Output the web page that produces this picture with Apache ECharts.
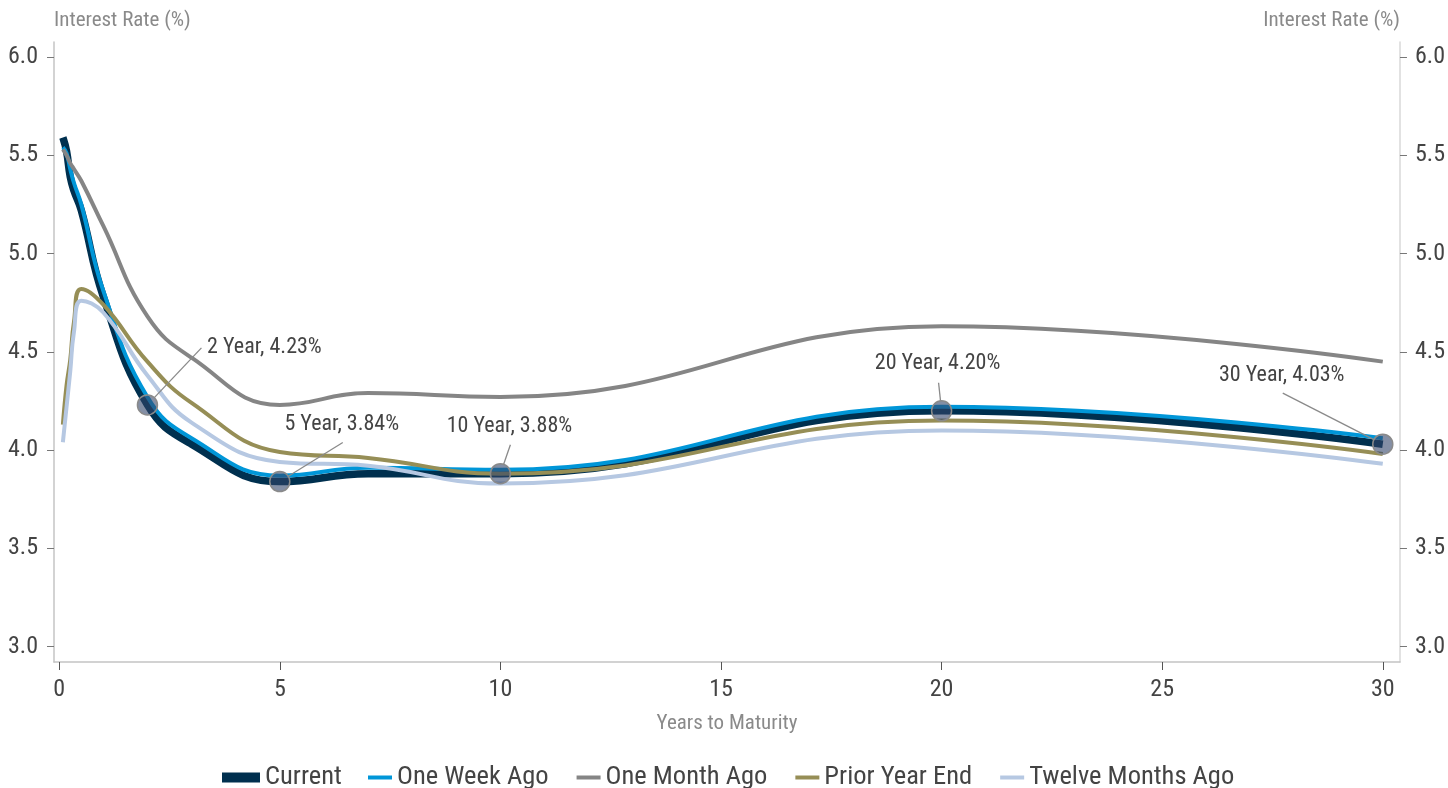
<!DOCTYPE html>
<html>
<head>
<meta charset="utf-8">
<title>Treasury Yield Curve</title>
<script src="https://cdn.jsdelivr.net/npm/echarts@6/dist/echarts.min.js"></script>
<style>
  html, body { margin: 0; padding: 0; background: #ffffff; }
  #chart { width: 1448px; height: 788px; }
</style>
</head>
<body>
<div id="chart"></div>
<script>
// Maturities in years: 1M, 2M, 3M, 4M, 6M, 1Y, 2Y, 3Y, 5Y, 7Y, 10Y, 20Y, 30Y
const tenors = [1 / 12, 2 / 12, 3 / 12, 4 / 12, 6 / 12, 1, 2, 3, 5, 7, 10, 20, 30];

// Yields (%) for each curve, one value per tenor
const current         = [5.59, 5.52, 5.39, 5.32, 5.22, 4.78, 4.23, 4.03, 3.84, 3.88, 3.88, 4.20, 4.03];
const oneWeekAgo      = [5.54, 5.51, 5.43, 5.36, 5.25, 4.81, 4.27, 4.06, 3.87, 3.91, 3.90, 4.22, 4.06];
const oneMonthAgo     = [5.53, 5.50, 5.46, 5.43, 5.37, 5.14, 4.68, 4.47, 4.23, 4.29, 4.27, 4.63, 4.45];
const priorYearEnd    = [4.13, 4.33, 4.46, 4.65, 4.82, 4.74, 4.45, 4.24, 3.99, 3.96, 3.88, 4.15, 3.98];
const twelveMonthsAgo = [4.04, 4.22, 4.40, 4.60, 4.76, 4.70, 4.38, 4.14, 3.94, 3.92, 3.83, 4.10, 3.93];

const seriesNames = ['Current', 'One Week Ago', 'One Month Ago', 'Prior Year End', 'Twelve Months Ago'];

// Tenors on the current curve that get a callout
const calloutTenors = [2, 5, 10, 20, 30];

// Axis tick values
const xTicks = [0, 5, 10, 15, 20, 25, 30];
const yTicks = [3.0, 3.5, 4.0, 4.5, 5.0, 5.5, 6.0];

// Callout placement in px relative to the marker: label centre and leader-line end
const calloutLayout = {
  2:  { label: [117, -57], lineEnd: [54, -57] },
  5:  { label: [62, -57],  lineEnd: [63, -39] },
  10: { label: [9, -47],   lineEnd: [10, -29] },
  20: { label: [-4, -47],  lineEnd: [-3, -28] },
  30: { label: [-101, -69], lineEnd: [-100, -51] }
};

const FONT = "'Liberation Sans Narrow', 'Arial Narrow', 'Roboto Condensed', sans-serif";
const colors = ['#00304F', '#0096D8', '#858585', '#968E56', '#B6C8E2'];
const widths = [7.5, 4, 4, 4, 4];
const MARKER_R = 10;

const pairs = arr => tenors.map((t, i) => [t, arr[i]]);
const curves = [current, oneWeekAgo, oneMonthAgo, priorYearEnd, twelveMonthsAgo];

const lineSeries = curves.map((arr, i) => ({
  name: seriesNames[i],
  type: 'line',
  data: pairs(arr),
  smooth: 0.45,
  showSymbol: false,
  symbol: 'none',
  yAxisIndex: 0,
  z: 2 + i,
  color: colors[i],
  lineStyle: { color: colors[i], width: widths[i], cap: 'butt', join: 'round' },
  emphasis: { disabled: true }
}));

const calloutData = calloutTenors.map(t => [t, current[tenors.indexOf(t)]]);

// Marker circle, leader line and "N Year, x.xx%" text for each callout
const calloutSeries = {
  name: 'callouts',
  type: 'custom',
  coordinateSystem: 'cartesian2d',
  data: calloutData,
  z: 20,
  clip: false,
  silent: true,
  renderItem: (params, api) => {
    const t = api.value(0);
    const v = api.value(1);
    const p = api.coord([t, v]);
    const lay = calloutLayout[t];
    const ex = p[0] + lay.lineEnd[0];
    const ey = p[1] + lay.lineEnd[1];
    const dx = ex - p[0], dy = ey - p[1];
    const len = Math.sqrt(dx * dx + dy * dy) || 1;
    const sx = p[0] + dx / len * MARKER_R;
    const sy = p[1] + dy / len * MARKER_R;
    return {
      type: 'group',
      children: [
        {
          type: 'line',
          shape: { x1: sx, y1: sy, x2: ex, y2: ey },
          style: { stroke: '#8a8a8a', lineWidth: 1.3 }
        },
        {
          type: 'circle',
          shape: { cx: p[0], cy: p[1], r: MARKER_R },
          style: { fill: 'rgba(50, 68, 105, 0.6)', stroke: '#8a8a8a', lineWidth: 1.5 }
        },
        {
          type: 'text',
          style: {
            text: t + ' Year, ' + v.toFixed(2) + '%',
            x: p[0] + lay.label[0],
            y: p[1] + lay.label[1],
            align: 'center',
            verticalAlign: 'middle',
            fill: '#444',
            font: '22px ' + FONT
          }
        }
      ]
    };
  }
};

const yAxisBase = {
  type: 'value',
  min: 2.922,
  max: 6.076,
  splitLine: { show: false },
  axisLine: { show: true, onZero: false, lineStyle: { color: '#c4c4c4', width: 1.5 } },
  axisTick: { show: true, length: 7, lineStyle: { color: '#777' }, customValues: yTicks },
  axisLabel: {
    color: '#444', fontFamily: FONT, fontSize: 24, margin: 16,
    customValues: yTicks,
    formatter: v => v.toFixed(1)
  },
  name: 'Interest Rate (%)',
  nameLocation: 'end',
  nameGap: 11,
  nameTextStyle: { color: '#8a8a8a', fontFamily: FONT, fontSize: 21, verticalAlign: 'bottom' }
};

const legendText = { color: '#444', fontFamily: FONT, fontSize: 26.5, lineHeight: 26 };

const option = {
  backgroundColor: '#ffffff',
  animation: false,
  grid: { left: 54, right: 45, top: 42, bottom: 126, containLabel: false },
  xAxis: {
    type: 'value',
    min: -0.118,
    max: 30.39,
    splitLine: { show: false },
    axisLine: { show: true, onZero: false, lineStyle: { color: '#c4c4c4', width: 1.5 } },
    axisTick: { show: true, length: 8, lineStyle: { color: '#555' }, customValues: xTicks },
    axisLabel: {
      color: '#444', fontFamily: FONT, fontSize: 24, margin: 16,
      customValues: xTicks
    },
    name: 'Years to Maturity',
    nameLocation: 'middle',
    nameGap: 51,
    nameTextStyle: { color: '#8a8a8a', fontFamily: FONT, fontSize: 21 }
  },
  yAxis: [
    Object.assign({}, yAxisBase, {
      position: 'left',
      nameTextStyle: Object.assign({}, yAxisBase.nameTextStyle, { align: 'left' })
    }),
    Object.assign({}, yAxisBase, {
      position: 'right',
      axisLine: { show: true, onZero: false, lineStyle: { color: '#d8d8d8', width: 1.5 } },
      axisLabel: Object.assign({}, yAxisBase.axisLabel, { margin: 15 }),
      nameTextStyle: Object.assign({}, yAxisBase.nameTextStyle, { align: 'right' })
    })
  ],
  legend: [
    {
      data: [seriesNames[0]],
      left: 222,
      top: 764,
      padding: 0,
      icon: 'rect',
      itemWidth: 38,
      itemHeight: 10,
      itemGap: 28,
      selectedMode: false,
      textStyle: legendText
    },
    {
      data: seriesNames.slice(1),
      left: 368,
      top: 764,
      padding: 0,
      icon: 'rect',
      itemWidth: 24,
      itemHeight: 4,
      itemGap: 28,
      selectedMode: false,
      textStyle: legendText
    }
  ],
  series: lineSeries.concat([calloutSeries])
};

const chart = echarts.init(document.getElementById('chart'), null, { renderer: 'canvas' });
chart.setOption(option);
</script>
</body>
</html>
